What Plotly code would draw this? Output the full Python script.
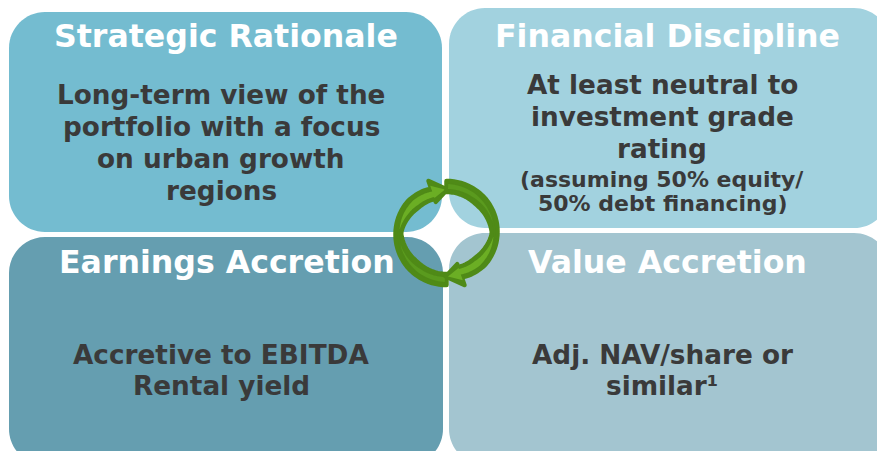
import math
import plotly.graph_objects as go

W, H = 877, 451

# Panel content
panel_titles = ["Strategic Rationale", "Financial Discipline", "Earnings Accretion", "Value Accretion"]
panel_colors = ["#74BCD0", "#A2D2DF", "#659EB0", "#A3C5D0"]
panel_boxes = [(9, 12, 442, 232), (449, 8, 890, 228), (9, 237, 443, 465), (449, 233, 890, 465)]
title_pos = [(226, 36), (667, 36), (227, 262), (667, 262)]

body_lines = ["Long-term view of the", "portfolio with a focus", "on urban growth", "regions",
              "At least neutral to", "investment grade", "rating",
              "Accretive to EBITDA", "Rental yield",
              "Adj. NAV/share or", "similar¹"]
body_pos = [(221, 95), (221, 127), (221, 159), (221, 191),
            (662, 85), (662, 117), (662, 149),
            (221, 355), (221, 386),
            (662, 355), (662, 386)]
note_lines = ["(assuming 50% equity/", "50% debt financing)"]
note_pos = [(662, 179), (662, 203)]

TITLE_SIZE, BODY_SIZE, NOTE_SIZE = 31.6, 26.3, 22
RADIUS = 36
CX, CY = 446.5, 233
K = 0.45


def rounded(x0, y0, x1, y1, r):
    c = r * K
    return (f"M{x0+r},{y0} L{x1-r},{y0} C{x1-c},{y0} {x1},{y0+c} {x1},{y0+r} L{x1},{y1-r} "
            f"C{x1},{y1-c} {x1-c},{y1} {x1-r},{y1} L{x0+r},{y1} C{x0+c},{y1} {x0},{y1-c} {x0},{y1-r} "
            f"L{x0},{y0+r} C{x0},{y0+c} {x0+c},{y0} {x0+r},{y0} Z")


def lerp(table, a):
    for (a0, v0), (a1, v1) in zip(table, table[1:]):
        if a0 <= a <= a1:
            return v0 + (v1 - v0) * (a - a0) / (a1 - a0)
    return table[-1][1]


def arrow_path(rot, outer, inner, base, wing_o, wing_i, tip_a, tip_r):
    def pt(a, r):
        t = math.radians(a + rot)
        return f"{CX + r*math.cos(t):.1f},{CY + r*math.sin(t):.1f}"
    start, steps = outer[0][0], 40
    angs = [start + (base - start) * i / steps for i in range(steps + 1)]
    p = [pt(a, lerp(outer, a)) for a in angs]
    p += [pt(base, wing_o), pt(tip_a, tip_r), pt(base, wing_i)]
    p += [pt(a, lerp(inner, a)) for a in reversed(angs)]
    return "M" + " L".join(p) + " Z"


OUT = [(90, 52), (135, 52), (180, 51), (220, 50), (251, 47)]
INN = [(90, 41), (135, 41), (180, 45.5), (220, 38), (251, 36)]
OUT_H = [(185, 47), (205, 47), (225, 46.5), (251, 44)]
INN_H = [(185, 46.8), (205, 43), (225, 40), (251, 38)]
OUT_T = [(92, 49), (125, 48.5), (165, 47.5)]
INN_T = [(92, 44), (125, 44.5), (165, 47.3)]


def taper(outer, inner, rot):
    def pt(a, r):
        t = math.radians(a + rot)
        return f"{CX + r*math.cos(t):.1f},{CY + r*math.sin(t):.1f}"
    a0, a1 = outer[0][0], outer[-1][0]
    angs = [a0 + (a1 - a0) * i / 30 for i in range(31)]
    pts = [pt(a, lerp(outer, a)) for a in angs] + [pt(a, lerp(inner, a)) for a in reversed(angs)]
    return "M" + " L".join(pts) + " Z"


shapes = []
for box, col in zip(panel_boxes, panel_colors):
    shapes.append(dict(type="path", path=rounded(*box, RADIUS), fillcolor=col, line_width=0, layer="below"))
for rot in (0, 180):
    shapes.append(dict(type="path", path=arrow_path(rot, OUT, INN, 251, 55, 33, 271, 43.5),
                       fillcolor="#4F8A17", line=dict(color="#4F8A17", width=4.5)))
    shapes.append(dict(type="path", path=taper(OUT_T, INN_T, rot), fillcolor="#5A9A1E", line_width=0))
    shapes.append(dict(type="path", path=arrow_path(rot, OUT_H, INN_H, 251, 50, 37, 268, 43.5),
                       fillcolor="#6BAE24", line_width=0))

annotations = []


def label(text, pos, size, color):
    annotations.append(dict(text=text, x=pos[0], y=pos[1], xref="x", yref="y", showarrow=False,
                            xanchor="center", yanchor="middle",
                            font=dict(family="DejaVu Sans", size=size, color=color, weight="bold")))


for t, p in zip(panel_titles, title_pos):
    label(t, p, TITLE_SIZE, "#FFFFFF")
for t, p in zip(body_lines, body_pos):
    label(t, p, BODY_SIZE, "#3A3A3A")
for t, p in zip(note_lines, note_pos):
    label(t, p, NOTE_SIZE, "#3A3A3A")

fig = go.Figure()
fig.update_layout(
    width=W, height=H, margin=dict(l=0, r=0, t=0, b=0),
    paper_bgcolor="white", plot_bgcolor="white", showlegend=False,
    xaxis=dict(range=[0, W], visible=False, fixedrange=True),
    yaxis=dict(range=[H, 0], visible=False, fixedrange=True),
    shapes=shapes, annotations=annotations,
)
fig.write_html("out.html", config=dict(displayModeBar=False),
               post_script="document.body.style.margin='0';document.body.style.overflow='hidden';"
                           "document.querySelectorAll('.shapelayer path').forEach(function(p){p.style.strokeLinejoin='round';});")
